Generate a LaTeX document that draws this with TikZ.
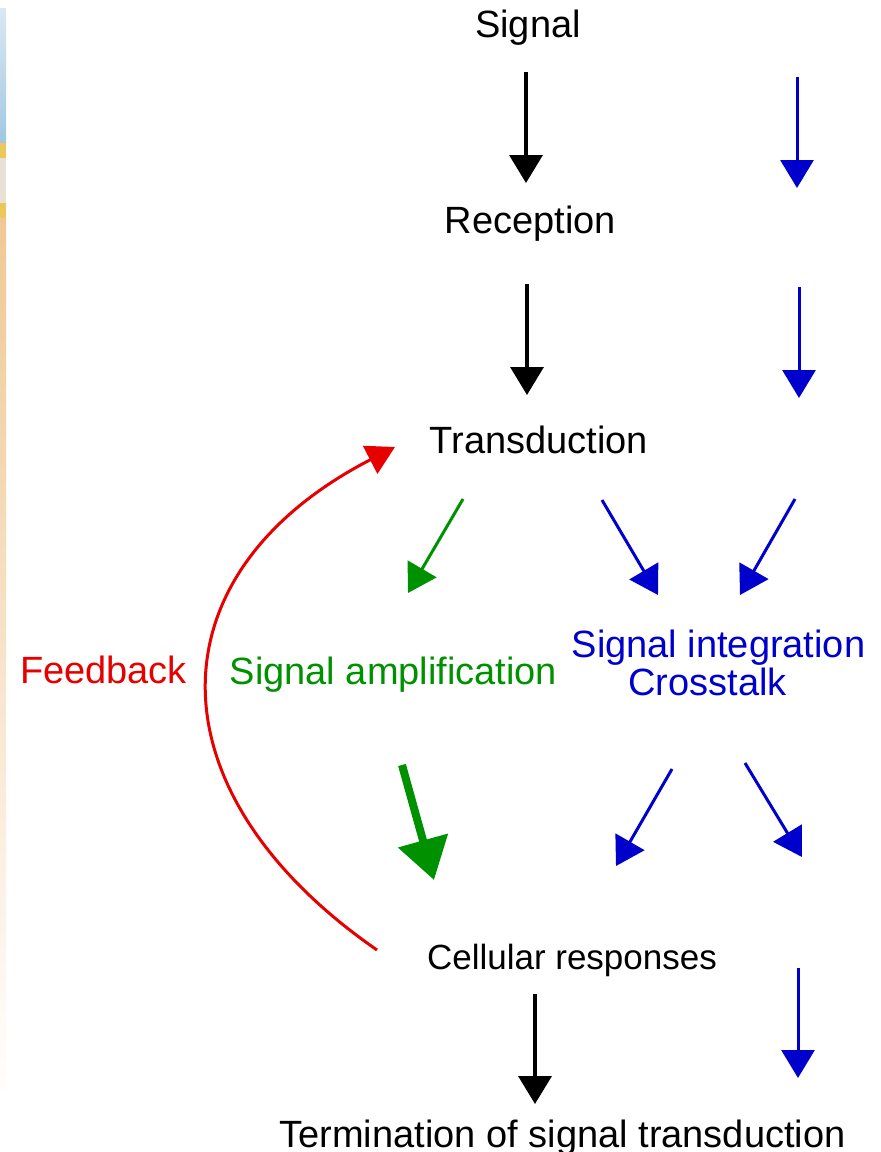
\documentclass[tikz,border=0pt]{standalone}
\usepackage{fontspec}
\setmainfont{Liberation Sans}
\usetikzlibrary{arrows.meta}
\definecolor{cblue}{RGB}{0,0,204}
\definecolor{cgreen}{RGB}{0,145,0}
\definecolor{cred}{RGB}{230,0,0}
\definecolor{stripblueA}{RGB}{218,232,242}
\definecolor{stripblueB}{RGB}{160,200,226}
\definecolor{stripgold}{RGB}{236,200,90}
\definecolor{stripgrey}{RGB}{232,226,212}
\definecolor{striporange}{RGB}{240,200,148}
\begin{document}
\begin{tikzpicture}[x=1pt,y=1pt,
  lbl/.style={anchor=base,inner sep=0pt,font=\fontsize{38}{40}\selectfont},
  smalllbl/.style={anchor=base,inner sep=0pt,font=\fontsize{35}{38}\selectfont},
  thin tip/.style={-{Triangle[length=28pt,width=33pt]}},
  blackarrow/.style={thin tip,draw=black,line width=3.5pt},
  bluearrow/.style={thin tip,draw=cblue,line width=3pt},
  greenarrow/.style={thin tip,draw=cgreen,line width=3pt},
  bigarrow/.style={-{Triangle[length=41pt,width=50pt]},draw=cgreen,line width=8pt},
  fbarrow/.style={-{Triangle[length=28pt,width=31pt]},draw=cred,line width=3pt}]

% page frame
\useasboundingbox (0,0) rectangle (881,-1152);
\fill[white] (0,0) rectangle (881,-1152);

% decorative strip along the left edge
\shade[top color=stripblueA,bottom color=stripblueB] (0,-8) rectangle (6,-143);
\fill[stripgold] (0,-143) rectangle (6,-158);
\fill[stripgrey] (0,-158) rectangle (6,-203);
\fill[stripgold] (0,-203) rectangle (6,-218);
\shade[top color=striporange,bottom color=white] (0,-218) rectangle (6,-1100);

% labels
\node[lbl] (signal) at (528,-37) {Signal};
\node[lbl] (reception) at (530.5,-233) {Reception};
\node[lbl] (transduction) at (539,-453) {Transduction};
\node[lbl,text=cred] (feedback) at (103.5,-683) {Feedback};
\node[lbl,text=cgreen] (amplification) at (393.5,-684) {Signal amplification};
\node[lbl,text=cblue] (integration) at (718.5,-657) {Signal integration};
\node[lbl,text=cblue] (crosstalk) at (707.5,-695) {Crosstalk};
\node[smalllbl] (responses) at (572,-969) {Cellular responses};
\node[lbl] (termination) at (562.5,-1147) {Termination of signal transduction};

% arrow end points
\coordinate (a1s) at (526,-72);   \coordinate (a1e) at (526,-183);
\coordinate (b1s) at (797,-77);   \coordinate (b1e) at (797,-188);
\coordinate (a2s) at (527,-284);  \coordinate (a2e) at (527,-395);
\coordinate (b2s) at (799,-287);  \coordinate (b2e) at (799,-398);
\coordinate (g1s) at (463,-499);  \coordinate (g1e) at (408,-593);
\coordinate (b3s) at (602,-500);  \coordinate (b3e) at (658,-595);
\coordinate (b4s) at (795,-499);  \coordinate (b4e) at (740,-595);
\coordinate (g2s) at (402,-765);  \coordinate (g2e) at (434,-880);
\coordinate (b5s) at (672,-769);  \coordinate (b5e) at (616,-866);
\coordinate (b6s) at (745,-763);  \coordinate (b6e) at (802,-857);
\coordinate (a3s) at (535,-994);  \coordinate (a3e) at (535,-1104);
\coordinate (b7s) at (798,-968);  \coordinate (b7e) at (798,-1078);
\coordinate (fbs) at (377,-950);  \coordinate (fbe) at (395,-447);
\coordinate (fbc1) at (149,-792); \coordinate (fbc2) at (149,-574);

% main pathway
\draw[blackarrow] (a1s) -- (a1e);
\draw[blackarrow] (a2s) -- (a2e);
\draw[blackarrow] (a3s) -- (a3e);

% parallel pathway
\draw[bluearrow] (b1s) -- (b1e);
\draw[bluearrow] (b2s) -- (b2e);
\draw[bluearrow] (b3s) -- (b3e);
\draw[bluearrow] (b4s) -- (b4e);
\draw[bluearrow] (b5s) -- (b5e);
\draw[bluearrow] (b6s) -- (b6e);
\draw[bluearrow] (b7s) -- (b7e);

% amplification
\draw[greenarrow] (g1s) -- (g1e);
\draw[bigarrow] (g2s) -- (g2e);

% feedback loop
\draw[fbarrow] (fbs) .. controls (fbc1) and (fbc2) .. (fbe);
\end{tikzpicture}
\end{document}
